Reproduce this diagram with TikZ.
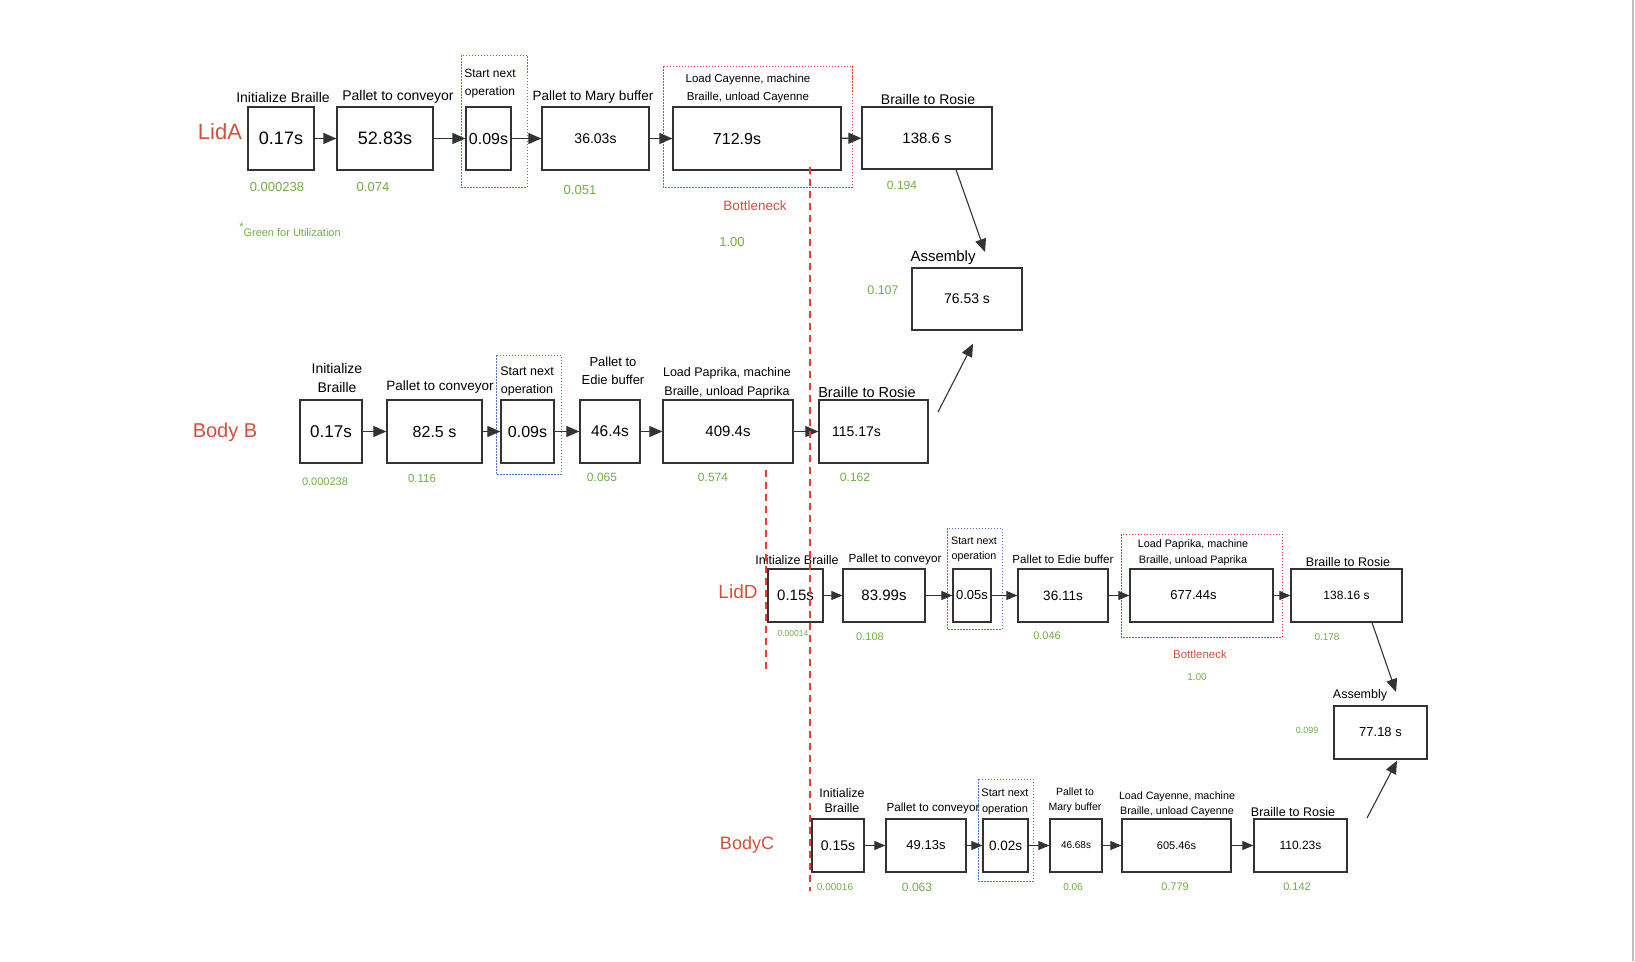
\documentclass[tikz,border=0pt]{standalone}
\usepackage{fontspec}
\setmainfont{Liberation Sans}
\usetikzlibrary{arrows.meta}
\definecolor{grn}{HTML}{6FAF45}
\definecolor{rtxt}{HTML}{D4503C}
\definecolor{rdash}{HTML}{EE3B30}
\definecolor{bdot}{HTML}{4A78D8}
\definecolor{edge}{HTML}{333333}
\newcommand{\fsz}[2]{\fontsize{#1}{#2}\selectfont}
\begin{document}
\begin{tikzpicture}[x=1pt,y=-1pt,
  box/.style={draw=edge,line width=1.3pt,inner sep=0pt,fill=white},
  flow/.style={-{Triangle[length=13pt,width=11pt]},line width=1.1pt,draw=edge},
  flowsm/.style={-{Triangle[length=11pt,width=9pt]},line width=1pt,draw=edge},
  lbl/.style={inner sep=0pt,align=center,text=black},
  gnum/.style={inner sep=0pt,text=grn},
  rlab/.style={inner sep=0pt,text=rtxt},
  bluebox/.style={draw=bdot,line width=0.9pt,dash pattern=on 1.5pt off 1.5pt},
  redbox/.style={draw=rdash,line width=0.9pt,dash pattern=on 1.5pt off 1.5pt},
  vdash/.style={draw=rdash,line width=1.5pt,dash pattern=on 7pt off 5pt}]
\useasboundingbox (0,0) rectangle (1635,961);
\fill[white] (0,0) rectangle (1635,961);
\draw[gray!50,line width=2pt] (1633,0) -- (1633,961);

% frames
\draw[bluebox] (461,55) rectangle (527,187);
\draw[redbox] (663,66) rectangle (852,187);
\draw[bluebox] (496,355) rectangle (561,474);
\draw[bluebox] (947,528) rectangle (1002,629);
\draw[redbox] (1121,534) rectangle (1282,637);
\draw[bluebox] (978,779) rectangle (1033,881);

% ---------------- Row A ----------------
\node[rlab,font=\fsz{22}{24}] (nA) at (220,132) {LidA};
\node[box,minimum width=66pt,minimum height=63pt,font=\fsz{18}{20}] (A1) at (281,138.5) {0.17s};
\node[box,minimum width=96pt,minimum height=63pt,font=\fsz{18}{20}] (A2) at (385,138.5) {52.83s};
\node[box,minimum width=45pt,minimum height=63pt,font=\fsz{16}{18}] (A3) at (488.5,138.5) {0.09s};
\node[box,minimum width=107pt,minimum height=63pt,font=\fsz{14}{16}] (A4) at (595.5,138.5) {36.03s};
\node[box,minimum width=168pt,minimum height=63pt,font=\fsz{16}{18}] (A5) at (757,138.5) {712.9s\hspace*{40pt}};
\node[box,minimum width=130pt,minimum height=62pt,font=\fsz{15}{17}] (A6) at (927,138) {138.6 s};
\node[box,minimum width=110pt,minimum height=62pt,font=\fsz{14}{16}] (AS1) at (967,299) {76.53 s};
\draw[flow] (A1) -- (A2);
\draw[flow] (A2) -- (A3);
\draw[flow] (A3) -- (A4);
\draw[flow] (A4) -- (A5);
\draw[flow] (A5) -- (A6);
\coordinate (tA) at (985,252);
\draw[flow] ([xshift=29pt]A6.south) -- (tA);

\node[lbl,font=\fsz{14}{16}] (LA1) at (283,97) {Initialize Braille};
\node[lbl,font=\fsz{14}{16}] (LA2) at (398,97) {Pallet to conveyor};
\node[lbl,font=\fsz{12}{18}] (LA3) at (490,84) {Start next\\operation};
\node[lbl,font=\fsz{13.5}{16}] (LA4) at (593,97) {Pallet to Mary buffer};
\node[lbl,font=\fsz{11.5}{18}] (LA5) at (748,89) {Load Cayenne, machine\\Braille, unload Cayenne};
\node[lbl,font=\fsz{14}{16}] (LA6) at (928,99) {Braille to Rosie};
\node[lbl,font=\fsz{15}{17}] (LAS1) at (943,258) {Assembly};

\node[gnum,font=\fsz{13}{15}] (gA1) at (277,187) {0.000238};
\node[gnum,font=\fsz{13}{15}] (gA2) at (373,187) {0.074};
\node[gnum,font=\fsz{13}{15}] (gA4) at (580,190) {0.051};
\node[gnum,font=\fsz{12}{14}] (gA6) at (902,185) {0.194};
\node[gnum,font=\fsz{12.5}{14}] (gAS1) at (883,290) {0.107};
\node[rlab,font=\fsz{13.5}{15}] (bnA) at (755,206) {Bottleneck};
\node[gnum,font=\fsz{13}{15}] (uA) at (732,242) {1.00};
\node[gnum,font=\fsz{11}{13}] (note) at (290,230) {\raisebox{6pt}{*}Green for Utilization};

% ---------------- Row B ----------------
\node[rlab,font=\fsz{20}{22}] (nB) at (225,432) {Body B};
\node[box,minimum width=62pt,minimum height=63pt,font=\fsz{17}{19}] (B1) at (331,431.5) {0.17s};
\node[box,minimum width=95pt,minimum height=63pt,font=\fsz{16}{18}] (B2) at (434.5,431.5) {82.5 s};
\node[box,minimum width=53pt,minimum height=63pt,font=\fsz{16}{18}] (B3) at (527.5,431.5) {0.09s};
\node[box,minimum width=60pt,minimum height=63pt,font=\fsz{15.5}{18}] (B4) at (610,431.5) {46.4s};
\node[box,minimum width=130pt,minimum height=63pt,font=\fsz{15}{17}] (B5) at (728,431.5) {409.4s};
\node[box,minimum width=109pt,minimum height=63pt,font=\fsz{14}{16}] (B6) at (873.5,431.5) {115.17s\hspace*{34pt}};
\draw[flow] (B1) -- (B2);
\draw[flow] (B2) -- (B3);
\draw[flow] (B3) -- (B4);
\draw[flow] (B4) -- (B5);
\draw[flow] (B5) -- (B6);
\coordinate (sB) at (938,412);
\draw[flow] (sB) -- ([xshift=6pt,yshift=-13pt]AS1.south);

\node[lbl,font=\fsz{14}{19}] (LB1) at (337,377.5) {Initialize\\Braille};
\node[lbl,font=\fsz{13.5}{16}] (LB2) at (440,387) {Pallet to conveyor};
\node[lbl,font=\fsz{12.5}{18}] (LB3) at (527,381) {Start next\\operation};
\node[lbl,font=\fsz{13}{18}] (LB4) at (613,371) {Pallet to\\Edie buffer};
\node[lbl,font=\fsz{12.5}{19}] (LB5) at (727,382.5) {Load Paprika, machine\\Braille, unload Paprika};
\node[lbl,font=\fsz{14.5}{16}] (LB6) at (867,392) {Braille to Rosie};

\node[gnum,font=\fsz{11}{13}] (gB1) at (325,482) {0.000238};
\node[gnum,font=\fsz{11.5}{13}] (gB2) at (422,479) {0.116};
\node[gnum,font=\fsz{12}{14}] (gB4) at (602,477) {0.065};
\node[gnum,font=\fsz{12}{14}] (gB5) at (713,477) {0.574};
\node[gnum,font=\fsz{12}{14}] (gB6) at (855,477) {0.162};

% ---------------- Row D ----------------
\node[rlab,font=\fsz{19}{21}] (nD) at (738,592) {LidD};
\node[box,minimum width=55pt,minimum height=53pt,font=\fsz{15}{17}] (D1) at (795.5,595.5) {0.15s};
\node[box,minimum width=82pt,minimum height=53pt,font=\fsz{15}{17}] (D2) at (884,595.5) {83.99s};
\node[box,minimum width=38pt,minimum height=53pt,font=\fsz{13}{15}] (D3) at (972,595.5) {0.05s};
\node[box,minimum width=90pt,minimum height=53pt,font=\fsz{13.5}{15}] (D4) at (1063,595.5) {36.11s};
\node[box,minimum width=143pt,minimum height=53pt,font=\fsz{13}{15}] (D5) at (1201.5,595.5) {677.44s\hspace*{16pt}};
\node[box,minimum width=111pt,minimum height=53pt,font=\fsz{12}{14}] (D6) at (1346.5,595.5) {138.16 s};
\node[box,minimum width=93pt,minimum height=53pt,font=\fsz{13}{15}] (AS2) at (1380.5,732.5) {77.18 s};
\draw[flowsm] (D1) -- (D2);
\draw[flowsm] (D2) -- (D3);
\draw[flowsm] (D3) -- (D4);
\draw[flowsm] (D4) -- (D5);
\draw[flowsm] (D5) -- (D6);
\coordinate (tD) at (1396,692);
\draw[flow] ([xshift=25.5pt]D6.south) -- (tD);

\node[lbl,font=\fsz{12.5}{15}] (LD1) at (797,560) {Initialize Braille};
\node[lbl,font=\fsz{11.7}{14}] (LD2) at (895,559) {Pallet to conveyor};
\node[lbl,font=\fsz{10.7}{15}] (LD3) at (974,549.5) {Start next\\operation};
\node[lbl,font=\fsz{11.6}{14}] (LD4) at (1063,559) {Pallet to Edie buffer};
\node[lbl,font=\fsz{10.8}{16}] (LD5) at (1193,553) {Load Paprika, machine\\Braille, unload Paprika};
\node[lbl,font=\fsz{12.5}{15}] (LD6) at (1348,562) {Braille to Rosie};
\node[lbl,font=\fsz{12.5}{15}] (LAS2) at (1360,695) {Assembly};

\node[gnum,font=\fsz{8.5}{10}] (gD1) at (793,634) {0.00014};
\node[gnum,font=\fsz{11}{13}] (gD2) at (870,637) {0.108};
\node[gnum,font=\fsz{11}{13}] (gD4) at (1047,636) {0.046};
\node[gnum,font=\fsz{10}{12}] (gD6) at (1327,637) {0.178};
\node[rlab,font=\fsz{11.5}{13}] (bnD) at (1200,654) {Bottleneck};
\node[gnum,font=\fsz{10}{12}] (uD) at (1197,677) {1.00};
\node[gnum,font=\fsz{9}{11}] (gAS2) at (1307,730) {0.099};

% ---------------- Row C ----------------
\node[rlab,font=\fsz{18}{20}] (nC) at (747,845) {BodyC};
\node[box,minimum width=52pt,minimum height=53pt,font=\fsz{14}{16}] (C1) at (838,845.5) {0.15s};
\node[box,minimum width=80pt,minimum height=53pt,font=\fsz{13}{15}] (C2) at (926,845.5) {49.13s};
\node[box,minimum width=45pt,minimum height=53pt,font=\fsz{13.5}{15}] (C3) at (1005.5,845.5) {0.02s};
\node[box,minimum width=52pt,minimum height=53pt,font=\fsz{10}{12}] (C4) at (1076,845.5) {46.68s};
\node[box,minimum width=109pt,minimum height=53pt,font=\fsz{11}{13}] (C5) at (1176.5,845.5) {605.46s};
\node[box,minimum width=93pt,minimum height=53pt,font=\fsz{12}{14}] (C6) at (1300.5,845.5) {110.23s};
\draw[flowsm] (C1) -- (C2);
\draw[flowsm] (C2) -- (C3);
\draw[flowsm] (C3) -- (C4);
\draw[flowsm] (C4) -- (C5);
\draw[flowsm] (C5) -- (C6);
\coordinate (sC) at (1367,818);
\draw[flow] (sC) -- ([xshift=16.5pt,yshift=-1pt]AS2.south);

\node[lbl,font=\fsz{12.5}{15}] (LC1) at (842,800.5) {Initialize\\Braille};
\node[lbl,font=\fsz{11.7}{14}] (LC2) at (933,808) {Pallet to conveyor};
\node[lbl,font=\fsz{11}{16}] (LC3) at (1005,802) {Start next\\operation};
\node[lbl,font=\fsz{10.5}{15}] (LC4) at (1075,800.5) {Pallet to\\Mary buffer};
\node[lbl,font=\fsz{10.7}{15}] (LC5) at (1177,804.5) {Load Cayenne, machine\\Braille, unload Cayenne};
\node[lbl,font=\fsz{12.5}{15}] (LC6) at (1293,812) {Braille to Rosie};

\node[gnum,font=\fsz{10}{12}] (gC1) at (835,887) {0.00016};
\node[gnum,font=\fsz{12}{14}] (gC2) at (917,887) {0.063};
\node[gnum,font=\fsz{10}{12}] (gC4) at (1073,887) {0.06};
\node[gnum,font=\fsz{11}{13}] (gC5) at (1175,887) {0.779};
\node[gnum,font=\fsz{11}{13}] (gC6) at (1297,887) {0.142};

% red dashed divider lines
\draw[vdash] (810,167) -- (810,891);
\draw[vdash] (766,470) -- (766,672);
\end{tikzpicture}
\end{document}
